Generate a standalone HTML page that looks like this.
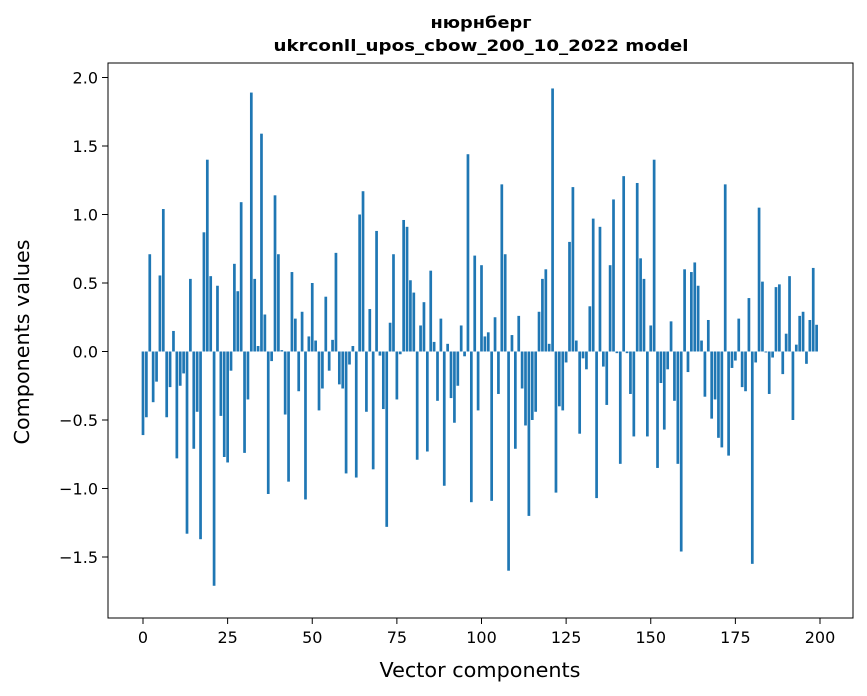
<!DOCTYPE html>
<html><head><meta charset="utf-8"><style>
body{margin:0;background:#fff;}
svg{display:block;font-family:"DejaVu Sans","Liberation Sans",sans-serif;}
</style></head><body>
<svg id="chart" width="867" height="696" viewBox="0 0 867 696">
<rect width="867" height="696" fill="#fff"/>
<text x="481" y="28" text-anchor="middle" font-size="16" font-weight="bold" textLength="101" lengthAdjust="spacingAndGlyphs">нюрнберг</text>
<text x="481" y="51" text-anchor="middle" font-size="16" font-weight="bold" textLength="415" lengthAdjust="spacingAndGlyphs">ukrconll_upos_cbow_200_10_2022 model</text>
<g id="bars"></g>
<g id="xaxis"></g>
<g id="yaxis"></g>
<rect x="108" y="63" width="745" height="555" fill="none" stroke="#000" stroke-width="1"/>
<text x="480" y="677" text-anchor="middle" font-size="20" textLength="201" lengthAdjust="spacingAndGlyphs">Vector components</text>
<text transform="translate(29,342) rotate(-90)" text-anchor="middle" font-size="20" textLength="205" lengthAdjust="spacingAndGlyphs">Components values</text>
</svg>
<script>
const values = [-0.61,-0.48,0.71,-0.37,-0.22,0.555,1.04,-0.48,-0.26,0.15,
-0.78,-0.25,-0.16,-1.33,0.53,-0.71,-0.44,-1.37,0.87,1.40,
0.55,-1.71,0.48,-0.47,-0.77,-0.81,-0.14,0.64,0.44,1.09,
-0.74,-0.35,1.89,0.53,0.04,1.59,0.27,-1.04,-0.07,1.14,
0.71,0.01,-0.46,-0.95,0.58,0.24,-0.29,0.29,-1.08,0.11,
0.50,0.08,-0.43,-0.27,0.40,-0.14,0.085,0.72,-0.24,-0.27,
-0.89,-0.095,0.04,-0.92,1.00,1.17,-0.44,0.31,-0.86,0.88,
-0.03,-0.42,-1.28,0.21,0.71,-0.35,-0.02,0.96,0.91,0.52,
0.43,-0.79,0.19,0.36,-0.73,0.59,0.07,-0.36,0.24,-0.98,
0.056,-0.34,-0.52,-0.25,0.19,-0.035,1.44,-1.10,0.70,-0.43,
0.63,0.11,0.14,-1.09,0.25,-0.31,1.22,0.71,-1.60,0.12,
-0.71,0.26,-0.27,-0.54,-1.20,-0.50,-0.44,0.29,0.53,0.60,
0.056,1.92,-1.03,-0.40,-0.43,-0.08,0.80,1.20,0.08,-0.60,
-0.05,-0.13,0.33,0.97,-1.07,0.91,-0.11,-0.39,0.63,1.11,
-0.012,-0.82,1.28,-0.012,-0.31,-0.62,1.23,0.68,0.53,-0.62,
0.19,1.40,-0.85,-0.23,-0.57,-0.13,0.22,-0.36,-0.82,-1.46,
0.60,-0.15,0.58,0.65,0.48,0.08,-0.33,0.23,-0.49,-0.35,
-0.63,-0.70,1.22,-0.76,-0.12,-0.066,0.24,-0.26,-0.29,0.39,
-1.55,-0.08,1.05,0.51,-0.007,-0.31,-0.044,0.47,0.49,-0.165,
0.13,0.55,-0.50,0.05,0.26,0.29,-0.09,0.23,0.61,0.195];
const xTicks = [0,25,50,75,100,125,150,175,200];
const yTicks = [-1.5,-1.0,-0.5,0.0,0.5,1.0,1.5,2.0];
const yTickLabels = ["\u22121.5","\u22121.0","\u22120.5","0.0","0.5","1.0","1.5","2.0"];

const NS="http://www.w3.org/2000/svg";
const xScale = v => 143 + (v/200)*(820-143);
const yScale = v => 351.5 - v*137;
const bw = 0.8*(820-143)/200;
const barsG=document.getElementById('bars');
values.forEach((v,i)=>{
  const r=document.createElementNS(NS,'rect');
  const y0=yScale(0), y1=yScale(v);
  r.setAttribute('x',xScale(i)-bw/2);
  r.setAttribute('y',Math.min(y0,y1));
  r.setAttribute('width',bw);
  r.setAttribute('height',Math.abs(y1-y0));
  r.setAttribute('fill','#1f77b4');
  
  
  barsG.appendChild(r);
});
const xg=document.getElementById('xaxis');
xTicks.forEach(t=>{
  const x=xScale(t);
  const l=document.createElementNS(NS,'line');
  l.setAttribute('x1',x);l.setAttribute('x2',x);l.setAttribute('y1',618);l.setAttribute('y2',624);
  l.setAttribute('stroke','#000');
  
  
  xg.appendChild(l);
  const tx=document.createElementNS(NS,'text');
  tx.setAttribute('x',x);tx.setAttribute('y',643);tx.setAttribute('text-anchor','middle');tx.setAttribute('font-size','16');
  tx.textContent=String(t);
  
  
  xg.appendChild(tx);
});
const yg=document.getElementById('yaxis');
yTicks.forEach((t,i)=>{
  const y=yScale(t);
  const l=document.createElementNS(NS,'line');
  l.setAttribute('x1',102);l.setAttribute('x2',108);l.setAttribute('y1',y);l.setAttribute('y2',y);
  l.setAttribute('stroke','#000');
  
  
  yg.appendChild(l);
  const tx=document.createElementNS(NS,'text');
  tx.setAttribute('x',98);tx.setAttribute('y',y+6);tx.setAttribute('text-anchor','end');tx.setAttribute('font-size','16');
  tx.textContent=yTickLabels[i];
  
  
  yg.appendChild(tx);
});
</script>
</body></html>
